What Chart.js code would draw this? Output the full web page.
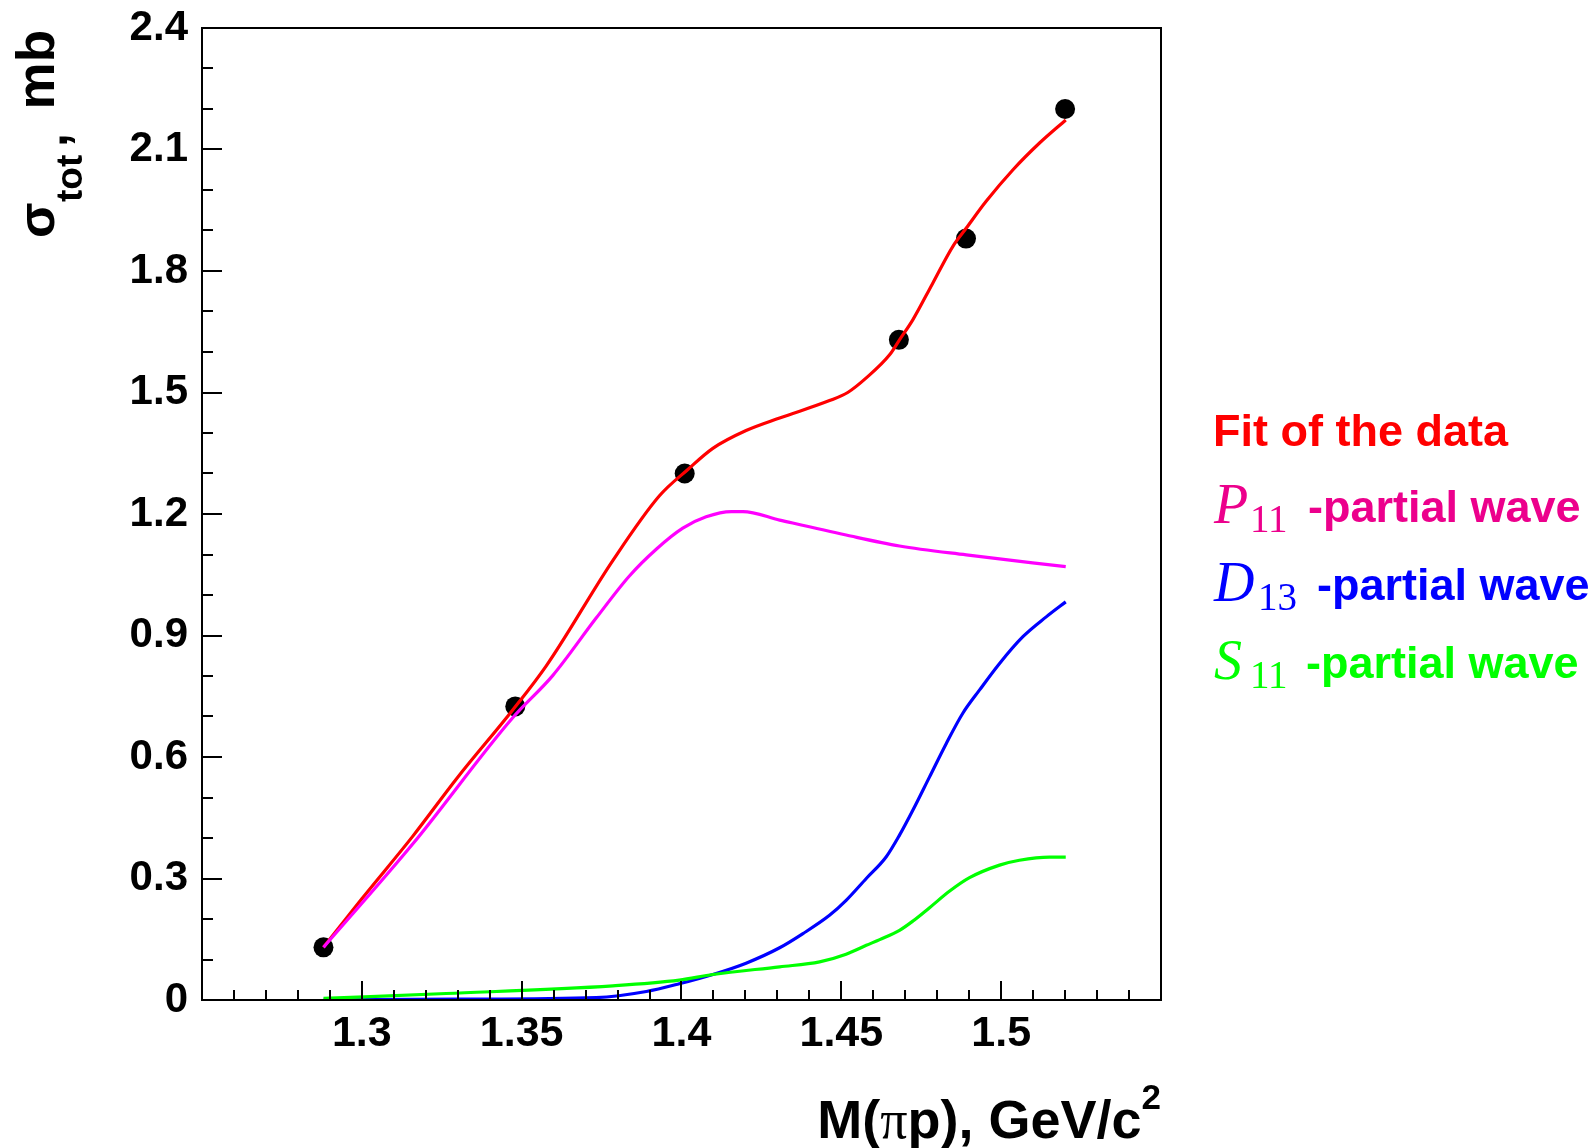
<!DOCTYPE html>
<html>
<head>
<meta charset="utf-8">
<script src="https://cdn.jsdelivr.net/npm/chart.js@4.4.1/dist/chart.umd.min.js"></script>
<style>
  html, body { margin: 0; padding: 0; background: #fff; }
  #wrap { width: 1596px; height: 1148px; }
</style>
</head>
<body>
<div id="wrap"><canvas id="chart" width="1596" height="1148"></canvas></div>
<script>
// measured cross section (black dots)
const dataX = [1.288, 1.348, 1.401, 1.468, 1.489, 1.520];
const dataY = [0.13, 0.725, 1.30, 1.63, 1.88, 2.20];

// fit of the data (red)
const fitX = [1.288, 1.300, 1.3159, 1.330, 1.3472, 1.3577, 1.3785, 1.3931, 1.402, 1.4098, 1.4202, 1.4307,
  1.4463, 1.452, 1.4578, 1.4651, 1.4682, 1.4724, 1.4786, 1.4849, 1.4891, 1.4953, 1.5037, 1.512, 1.5202];
const fitY = [0.13, 0.25, 0.404, 0.55, 0.716, 0.825, 1.085, 1.245, 1.31, 1.362, 1.406, 1.437,
  1.48, 1.50, 1.536, 1.593, 1.63, 1.68, 1.77, 1.861, 1.906, 1.972, 2.05, 2.116, 2.173];

// P11 partial wave (magenta)
const p11X = [1.288, 1.3159, 1.3472, 1.3597, 1.3733, 1.3837, 1.3921, 1.4004, 1.4077, 1.4156, 1.4192,
  1.4307, 1.4515, 1.4682, 1.4891, 1.5202];
const p11Y = [0.13, 0.385, 0.697, 0.801, 0.943, 1.047, 1.113, 1.165, 1.193, 1.206, 1.206,
  1.185, 1.148, 1.121, 1.099, 1.07];

// D13 partial wave (blue)
const d13X = [1.288, 1.33, 1.3733, 1.389, 1.3993, 1.4098, 1.4202, 1.4307, 1.438, 1.4463, 1.4515, 1.4578,
  1.464, 1.4682, 1.4724, 1.4776, 1.4828, 1.488, 1.4932, 1.4995, 1.5068, 1.5141, 1.5202];
const d13Y = [0.0, 0.002, 0.006, 0.021, 0.04, 0.063, 0.091, 0.129, 0.164, 0.209, 0.246, 0.300,
  0.353, 0.407, 0.469, 0.551, 0.633, 0.708, 0.765, 0.831, 0.897, 0.946, 0.983];

// S11 partial wave (green)
const s11X = [1.288, 1.3264, 1.3785, 1.3993, 1.4098, 1.4307, 1.4432, 1.4515, 1.4578, 1.462, 1.4682,
  1.4724, 1.4776, 1.4839, 1.4901, 1.4995, 1.5057, 1.5151, 1.5202];
const s11Y = [0.004, 0.016, 0.035, 0.049, 0.063, 0.082, 0.094, 0.113, 0.135, 0.149, 0.172,
  0.195, 0.228, 0.269, 0.302, 0.333, 0.345, 0.353, 0.353];

const xTicks = [1.3, 1.35, 1.4, 1.45, 1.5];
const xTickLabels = ["1.3", "1.35", "1.4", "1.45", "1.5"];
const yTicks = [0, 0.3, 0.6, 0.9, 1.2, 1.5, 1.8, 2.1, 2.4];
const yTickLabels = ["0", "0.3", "0.6", "0.9", "1.2", "1.5", "1.8", "2.1", "2.4"];

const legendNames = ["Fit of the data", "P", "D", "S"];
const legendSubs = ["", "11", "13", "11"];
const legendTail = "-partial wave";

const SANS = '"Liberation Sans", Arial, Helvetica, sans-serif';
const SERIF = '"Liberation Serif", "Times New Roman", serif';

const pts = (xs, ys) => xs.map((x, i) => ({ x, y: ys[i] }));

const line = (label, xs, ys, color) => ({
  type: "line",
  label,
  data: pts(xs, ys),
  borderColor: color,
  borderWidth: 3.2,
  pointRadius: 0,
  cubicInterpolationMode: "monotone",
  fill: false,
});

// inward ticks and frame, ROOT style
const frame = {
  id: "frame",
  afterDatasetsDraw(chart) {
    const { ctx, chartArea: a, scales: { x, y } } = chart;
    ctx.save();
    ctx.strokeStyle = "#000";
    ctx.lineWidth = 2;
    ctx.beginPath();
    for (let k = 0; k <= 30; k++) {
      const px = Math.round(x.getPixelForValue(1.25 + k * 0.01));
      const len = k % 5 === 0 ? 19 : 10;
      ctx.moveTo(px, a.bottom);
      ctx.lineTo(px, a.bottom - len);
    }
    for (let k = 0; k <= 24; k++) {
      const py = Math.round(y.getPixelForValue(k * 0.1));
      const len = k % 3 === 0 ? 20 : 11;
      ctx.moveTo(a.left, py);
      ctx.lineTo(a.left + len, py);
    }
    ctx.stroke();
    ctx.strokeRect(a.left, a.top, a.right - a.left, a.bottom - a.top);
    ctx.restore();
  },
};

const texts = {
  id: "texts",
  afterDraw(chart) {
    const { ctx, chartArea: a } = chart;
    ctx.save();
    ctx.textBaseline = "alphabetic";
    ctx.textAlign = "left";
    ctx.fillStyle = "#000";

    // x title, right aligned to frame
    const parts = [
      { t: "M(", f: `bold 54px ${SANS}`, dy: 0 },
      { t: "\u03c0", f: `54px ${SERIF}`, dy: 0 },
      { t: "p), GeV/c", f: `bold 54px ${SANS}`, dy: 0 },
      { t: "2", f: `bold 35px ${SANS}`, dy: -29 },
    ];
    let w = 0;
    parts.forEach((p) => { ctx.font = p.f; p.w = ctx.measureText(p.t).width; w += p.w; });
    let cx = a.right - w;
    parts.forEach((p) => { ctx.font = p.f; ctx.fillText(p.t, cx, 1138 + p.dy); cx += p.w; });

    // y title, rotated
    ctx.save();
    ctx.translate(54, 238);
    ctx.rotate(-Math.PI / 2);
    ctx.font = `bold 52px ${SANS}`;
    ctx.fillText("\u03c3", 0, 0);
    ctx.font = `bold 37px ${SANS}`;
    ctx.fillText("tot", 36, 28);
    ctx.font = `bold 50px ${SANS}`;
    ctx.fillText(",", 91, 13);
    ctx.font = `bold 53px ${SANS}`;
    ctx.textAlign = "right";
    ctx.fillText("mb", 208, 0);
    ctx.restore();

    // legend text
    ctx.font = `bold 45px ${SANS}`;
    ctx.fillStyle = "#ff0000";
    ctx.fillText(legendNames[0], 1213, 446);

    const rows = [
      { c: "#ec008c", base: 523, subX: 1250, tailX: 1308 },
      { c: "#0000ff", base: 601, subX: 1258, tailX: 1317 },
      { c: "#00ff00", base: 679, subX: 1250, tailX: 1306 },
    ];
    rows.forEach((r, i) => {
      ctx.fillStyle = r.c;
      ctx.font = `italic 56px ${SERIF}`;
      ctx.fillText(legendNames[i + 1], 1214, r.base);
      ctx.font = `39px ${SERIF}`;
      ctx.fillText(legendSubs[i + 1], r.subX, r.base + 9);
      ctx.font = `bold 45px ${SANS}`;
      ctx.fillText(legendTail, r.tailX, r.base - 1);
    });
    ctx.restore();
  },
};

new Chart(document.getElementById("chart"), {
  data: {
    datasets: [
      line("P11", p11X, p11Y, "#ff00ff"),
      line("Fit", fitX, fitY, "#ff0000"),
      line("S11", s11X, s11Y, "#00ff00"),
      line("D13", d13X, d13Y, "#0000ff"),
      {
        type: "scatter",
        label: "data",
        data: pts(dataX, dataY),
        backgroundColor: "#000",
        borderWidth: 0,
        pointRadius: 10,
        showLine: false,
      },
    ],
  },
  options: {
    responsive: false,
    animation: false,
    devicePixelRatio: 1,
    layout: { padding: { top: 28, right: 435, bottom: 0, left: 0 } },
    plugins: { legend: { display: false }, tooltip: { enabled: false } },
    scales: {
      x: {
        type: "linear",
        min: 1.25,
        max: 1.55,
        grid: { display: false, drawTicks: false },
        border: { display: false },
        afterBuildTicks: (s) => { s.ticks = xTicks.map((v) => ({ value: v })); },
        afterFit: (s) => { s.height = 148; s.paddingLeft = 0; s.paddingRight = 0; },
        ticks: {
          callback: (v, i) => xTickLabels[i],
          font: { family: SANS, size: 43, weight: "bold" },
          color: "#000",
          padding: 8,
          maxRotation: 0,
          autoSkip: false,
        },
      },
      y: {
        type: "linear",
        min: 0,
        max: 2.4,
        grid: { display: false, drawTicks: false },
        border: { display: false },
        afterBuildTicks: (s) => { s.ticks = yTicks.map((v) => ({ value: v })); },
        afterFit: (s) => { s.width = 202; s.paddingTop = 0; s.paddingBottom = 0; },
        ticks: {
          callback: (v, i) => yTickLabels[i],
          font: { family: SANS, size: 42, weight: "bold" },
          color: "#000",
          padding: 14,
          autoSkip: false,
        },
      },
    },
  },
  plugins: [frame, texts],
});
</script>
</body>
</html>
